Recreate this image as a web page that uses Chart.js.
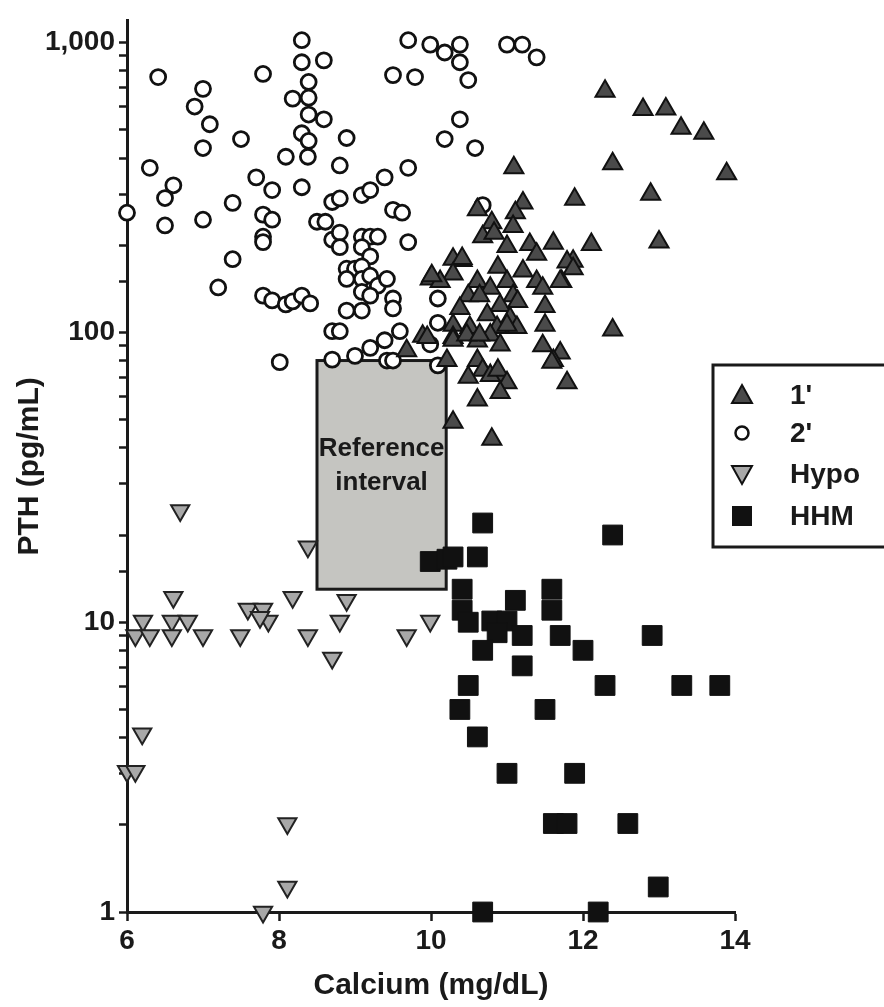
<!DOCTYPE html>
<html>
<head>
<meta charset="utf-8">
<script src="https://cdn.jsdelivr.net/npm/chart.js@4.4.1/dist/chart.umd.min.js"></script>
<style>
  html, body { margin: 0; padding: 0; background: #fff; }
  #wrap { width: 884px; height: 1007px; position: relative; }
</style>
</head>
<body>
<div id="wrap"><canvas id="pthChart"></canvas></div>
<script>
// [calcium mg/dL, PTH pg/mL] per case
const primaryPoints = [
  [12.29,680],[12.79,588],[13.09,590],[13.29,507],[13.59,487],[12.39,382],[13.89,353],[11.89,288],
  [12.89,300],[12.11,201],[13.00,205],[11.87,176],[11.79,175],[11.87,166],[11.72,150],[12.39,102],
  [11.09,370],[10.61,265],[11.21,280],[11.11,259],[10.80,239],[11.08,232],[10.68,214],[10.83,220],
  [11.00,198],[11.30,201],[11.61,203],[11.39,186],[10.29,179],[10.41,177],[10.88,168],[11.21,163],
  [10.29,159],[9.99,153],[10.12,150],[10.61,150],[10.78,142],[11.00,150],[11.39,150],[11.70,150],
  [11.47,142],[10.49,134],[10.64,134],[11.08,134],[10.91,124],[11.14,128],[11.50,123],[10.38,121],
  [10.74,115],[11.04,112],[11.50,106],[10.29,106],[10.51,104],[10.87,104],[11.13,104],[9.89,97],
  [10.29,96],[10.61,93.5],[10.78,98],[10.91,90.6],[9.68,86.5],[11.47,90],[11.70,85],[10.21,80],
  [10.61,80],[10.68,74],[10.91,71],[11.61,80],[11.79,67],[11.59,79],[10.49,70],[10.78,71],
  [10.88,74],[11.00,67],[10.91,62],[10.61,58.5],[10.29,49],[10.80,42.8],[9.95,96],[10.29,94],
  [10.47,98],[10.64,98],[11.00,106],[10.01,157],[10.41,180]
];
const secondaryPoints = [
  [6.00,259],[6.41,761],[6.30,370],[6.61,322],[6.50,291],[6.50,234],[7.00,693],[6.89,602],
  [7.09,523],[7.00,433],[7.50,465],[7.00,245],[7.39,280],[7.70,343],[7.91,310],[7.79,255],
  [7.91,245],[7.79,214],[7.79,205],[7.39,179],[7.20,143],[7.79,134],[7.91,129],[8.09,125],
  [8.18,128],[7.79,780],[8.09,404],[8.30,1020],[8.30,856],[8.59,869],[8.39,732],[8.18,641],
  [8.39,646],[8.39,565],[8.59,544],[8.30,487],[8.39,458],[8.38,404],[8.89,469],[8.80,377],
  [8.30,317],[8.70,282],[8.80,290],[9.09,298],[9.20,310],[9.39,343],[9.70,370],[9.50,265],
  [9.62,259],[9.70,205],[8.50,241],[8.61,241],[8.70,209],[8.80,221],[8.80,197],[9.09,214],
  [9.20,214],[9.30,214],[9.09,197],[9.20,183],[8.89,166],[9.00,166],[9.09,169],[8.89,153],
  [9.09,153],[9.20,157],[9.30,145],[9.42,153],[9.09,138],[9.20,134],[9.50,131],[9.50,121],
  [8.89,119],[9.09,119],[8.30,134],[8.41,126],[8.70,101],[8.80,101],[9.39,94],[9.59,101],
  [10.09,131],[10.09,108],[10.38,544],[10.18,465],[10.58,433],[9.70,1020],[9.99,985],[10.18,925],
  [10.38,985],[10.38,856],[10.49,743],[9.50,773],[9.79,761],[11.00,985],[11.20,985],[11.39,890],
  [10.68,275],[8.01,79],[8.70,80.6],[9.00,83],[9.20,88.5],[9.42,80],[9.50,80],[10.09,77],[9.99,91]
];
const hypoPoints = [
  [6.70,24.3],[8.38,18.2],[6.61,12.2],[8.18,12.2],[8.89,11.9],[7.59,11.1],[7.79,11.1],[6.21,10.1],
  [6.59,10.1],[6.80,10.1],[7.86,10.1],[7.75,10.4],[8.80,10.1],[9.99,10.1],[6.11,9.0],[6.30,9.0],
  [6.59,9.0],[7.00,9.0],[7.49,9.0],[8.38,9.0],[9.68,9.0],[8.70,7.53],[6.20,4.12],[6.00,3.06],
  [6.11,3.06],[8.11,2.02],[8.11,1.22],[7.79,1.0]
];
const hhmPoints = [
  [10.68,22],[12.39,20],[9.99,16.2],[10.21,16.5],[10.29,16.8],[10.61,16.8],[10.41,13],[11.59,13],
  [10.41,11],[11.59,11],[11.11,11.9],[10.49,10],[10.80,10.1],[11.00,10.1],[10.87,9.2],[11.20,9.0],
  [11.70,9.0],[12.00,8.0],[10.68,8.0],[11.20,7.07],[12.91,9.0],[10.49,6.05],[12.29,6.05],[13.30,6.05],
  [13.80,6.05],[10.38,5.0],[11.50,5.0],[10.61,4.02],[11.00,3.01],[11.89,3.01],[11.61,2.02],[11.79,2.02],
  [12.59,2.02],[12.99,1.22],[10.68,1.0],[12.20,1.0]
];

const seriesLabels = ["1'", "2'", "Hypo", "HHM"];
const xTicks = [6, 8, 10, 12, 14];
const yTickLabels = { 1: "1", 10: "10", 100: "100", 1000: "1,000" };
const refCalcium = [8.5, 10.2];
const refPTH = [13, 80];
const refText = ["Reference", "interval"];

const FONT = "'Liberation Sans', Arial, sans-serif";
const INK = "#1a1a1a";

const toXY = (pts) => pts.map((p) => ({ x: p[0], y: p[1] }));

// grey reference interval box, drawn under the points
const refBoxPlugin = {
  id: "refBox",
  beforeDatasetsDraw(chart) {
    const { ctx, scales } = chart;
    const l = scales.x.getPixelForValue(refCalcium[0]);
    const r = scales.x.getPixelForValue(refCalcium[1]);
    const t = scales.y.getPixelForValue(refPTH[1]);
    const b = scales.y.getPixelForValue(refPTH[0]);
    ctx.save();
    ctx.fillStyle = "#c5c5c1";
    ctx.fillRect(l, t, r - l, b - t);
    ctx.lineWidth = 3;
    ctx.strokeStyle = INK;
    ctx.strokeRect(l, t, r - l, b - t);
    ctx.fillStyle = INK;
    ctx.font = "bold 26px " + FONT;
    ctx.textAlign = "center";
    ctx.textBaseline = "middle";
    const cx = (l + r) / 2, cy = (t + b) / 2;
    ctx.fillText(refText[0], cx, cy - 26);
    ctx.fillText(refText[1], cx, cy + 8);
    ctx.restore();
  },
};

// boxed legend at the right, partly cut by the page edge
const legendPlugin = {
  id: "boxLegend",
  afterDraw(chart) {
    const { ctx } = chart;
    const left = 713, top = 365, bottom = 547;
    ctx.save();
    ctx.lineWidth = 3;
    ctx.strokeStyle = INK;
    ctx.strokeRect(left, top, 200, bottom - top);
    const rows = [395, 433, 474, 516];
    const mx = 742;
    ctx.lineWidth = 2;
    ctx.strokeStyle = "#111";
    // up triangle
    ctx.beginPath();
    ctx.moveTo(mx, rows[0] - 10); ctx.lineTo(mx + 10, rows[0] + 8); ctx.lineTo(mx - 10, rows[0] + 8);
    ctx.closePath(); ctx.fillStyle = "#4a4a4a"; ctx.fill(); ctx.stroke();
    // circle
    ctx.beginPath(); ctx.arc(mx, rows[1], 6.5, 0, Math.PI * 2);
    ctx.fillStyle = "#fff"; ctx.fill(); ctx.lineWidth = 2.5; ctx.stroke();
    // down triangle
    ctx.lineWidth = 2;
    ctx.beginPath();
    ctx.moveTo(mx - 10, rows[2] - 8); ctx.lineTo(mx + 10, rows[2] - 8); ctx.lineTo(mx, rows[2] + 10);
    ctx.closePath(); ctx.fillStyle = "#a8a8a8"; ctx.fill(); ctx.stroke();
    // square
    ctx.fillStyle = "#111";
    ctx.fillRect(mx - 10, rows[3] - 10, 20, 20);
    ctx.fillStyle = INK;
    ctx.font = "bold 28px " + FONT;
    ctx.textBaseline = "middle";
    ctx.textAlign = "left";
    seriesLabels.forEach((s, i) => ctx.fillText(s, 790, rows[i] + 1));
    ctx.restore();
  },
};

const ctx = document.getElementById("pthChart").getContext("2d");

new Chart(ctx, {
  type: "scatter",
  data: {
    datasets: [
      {
        label: seriesLabels[0],
        data: toXY(primaryPoints),
        pointStyle: "triangle",
        pointRadius: 11,
        borderWidth: 2,
        backgroundColor: "#4a4a4a",
        borderColor: "#111",
        order: 1,
        clip: false,
      },
      {
        label: seriesLabels[1],
        data: toXY(secondaryPoints),
        pointStyle: "circle",
        pointRadius: 7.5,
        borderWidth: 2.8,
        backgroundColor: "#fff",
        borderColor: "#111",
        order: 2,
        clip: false,
      },
      {
        label: seriesLabels[2],
        data: toXY(hypoPoints),
        pointStyle: "triangle",
        rotation: 180,
        pointRadius: 10.5,
        borderWidth: 2,
        backgroundColor: "#a8a8a8",
        borderColor: "#222",
        order: 3,
        clip: false,
      },
      {
        label: seriesLabels[3],
        data: toXY(hhmPoints),
        pointStyle: "rect",
        pointRadius: 14,
        borderWidth: 1,
        backgroundColor: "#111",
        borderColor: "#111",
        order: 4,
        clip: false,
      },
    ],
  },
  options: {
    responsive: true,
    maintainAspectRatio: false,
    animation: false,
    layout: {
      padding: { top: 10, right: 149, left: 0, bottom: 0 },
    },
    scales: {
      x: {
        type: "linear",
        min: 6,
        max: 14,
        afterBuildTicks: (scale) => {
          scale.ticks = xTicks.map((v) => ({ value: v }));
        },
        afterFit: (scale) => {
          scale.height = 95;
        },
        grid: {
          drawOnChartArea: false,
          drawTicks: true,
          tickLength: 9,
          tickWidth: 2.5,
          tickColor: INK,
        },
        border: { display: true, color: INK, width: 3 },
        ticks: {
          color: INK,
          padding: 3,
          font: { family: FONT, size: 28, weight: "bold" },
        },
        title: {
          display: true,
          text: "Calcium (mg/dL)",
          color: INK,
          padding: { top: 0, bottom: 3 },
          font: { family: FONT, size: 30, weight: "bold" },
        },
      },
      y: {
        type: "logarithmic",
        min: 1,
        max: 1190,
        afterBuildTicks: (scale) => {
          scale.ticks = scale.ticks.filter((t) => t.value <= 1000);
        },
        afterFit: (scale) => {
          scale.width = 127;
        },
        grid: {
          drawOnChartArea: false,
          drawTicks: true,
          tickLength: 8,
          tickWidth: 2.5,
          tickColor: INK,
        },
        border: { display: true, color: INK, width: 3 },
        ticks: {
          color: INK,
          padding: 4,
          autoSkip: false,
          font: { family: FONT, size: 28, weight: "bold" },
          callback: (value) => {
            const key = Math.round(value);
            return Math.abs(value - key) < 1e-6 && yTickLabels[key] ? yTickLabels[key] : "";
          },
        },
        title: {
          display: true,
          text: "PTH (pg/mL)",
          color: INK,
          padding: { top: 12, bottom: 0 },
          font: { family: FONT, size: 30, weight: "bold" },
        },
      },
    },
    plugins: {
      legend: { display: false },
      tooltip: { enabled: false },
    },
  },
  plugins: [refBoxPlugin, legendPlugin],
});
</script>
</body>
</html>
